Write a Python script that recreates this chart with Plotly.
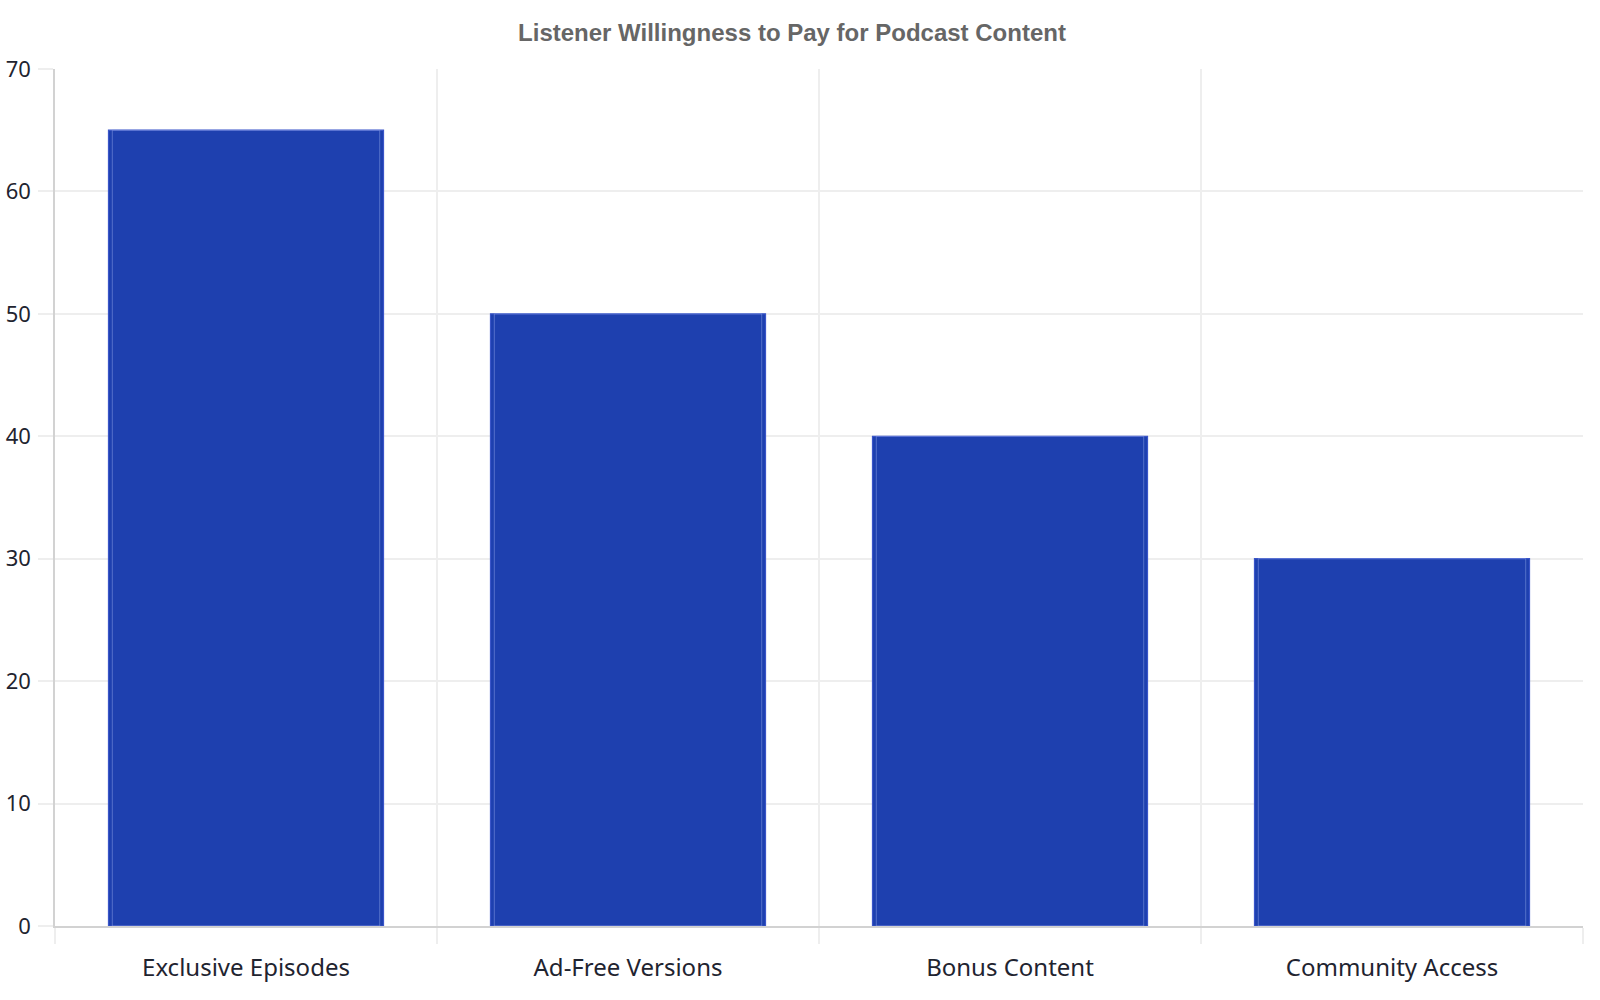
import plotly.graph_objects as go

# data
categories = ["Exclusive Episodes", "Ad-Free Versions", "Bonus Content", "Community Access"]
willingness = [65, 50, 40, 30]
y_ticks = [0, 10, 20, 30, 40, 50, 60, 70]

bar_color = "#1e40af"
grid_color = "#eeeeee"
axis_color = "#d2d2d2"
text_color = "#1f2430"

fig = go.Figure()

# main bars
fig.add_trace(go.Bar(
    x=categories,
    y=willingness,
    width=0.72,
    marker=dict(color=bar_color, line=dict(color="#3a55c8", width=1.2)),
    showlegend=False,
    hoverinfo="x+y",
))

# thin light inner outline
fig.add_trace(go.Bar(
    x=categories,
    y=willingness,
    width=0.70,
    marker=dict(color="rgba(0,0,0,0)", line=dict(color="rgba(140,160,230,0.5)", width=1)),
    showlegend=False,
    hoverinfo="skip",
))

fig.update_layout(
    barmode="overlay",
    autosize=True,
    plot_bgcolor="white",
    paper_bgcolor="white",
    margin=dict(l=55, r=1, t=69, b=58),
    title=dict(
        text="<b>Listener Willingness to Pay for Podcast Content</b>",
        x=0.5,
        xanchor="center",
        y=0.967,
        yanchor="middle",
        font=dict(family="Liberation Sans, Arial, sans-serif", size=24, color="#666666"),
    ),
    font=dict(family="Noto Sans, Open Sans, sans-serif", size=22, color=text_color),
)

fig.update_xaxes(
    tickson="boundaries",
    showgrid=True,
    gridcolor=grid_color,
    gridwidth=1.5,
    ticks="outside",
    ticklen=16,
    tickcolor=grid_color,
    tickwidth=1.5,
    ticklabelstandoff=19,
    showline=True,
    linecolor=axis_color,
    linewidth=1.5,
    tickfont=dict(size=24, color=text_color),
)

fig.update_yaxes(
    range=[0, 70],
    tickvals=y_ticks,
    showgrid=True,
    gridcolor=grid_color,
    gridwidth=1.5,
    zeroline=False,
    ticks="outside",
    ticklen=15,
    tickcolor=grid_color,
    tickwidth=1.5,
    ticklabelstandoff=3,
    showline=True,
    linecolor=axis_color,
    linewidth=1.5,
    tickfont=dict(size=22, color=text_color),
)

fig.write_html(
    "out.html",
    config={"displayModeBar": False},
    post_script="document.body.style.margin='0';",
)
